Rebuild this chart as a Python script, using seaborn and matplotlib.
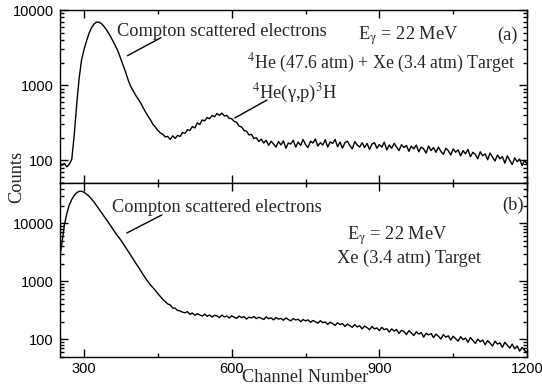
import numpy as np
import pandas as pd
import matplotlib
matplotlib.use("Agg")
import matplotlib.pyplot as plt
import seaborn as sns
from matplotlib.ticker import FixedLocator, AutoMinorLocator, LogLocator, FuncFormatter, NullFormatter

# ---------------- data ----------------
channel_start = 250
channel_step = 5

counts_a = [
    95, 86, 91, 82, 89, 104, 220, 560, 1250, 2200,
    3000, 3900, 4900, 5800, 6500, 6900, 6900, 6600, 6100, 5500,
    4900, 4300, 3700, 3200, 2700, 2200, 1800, 1450, 1150, 960,
    840, 730, 650, 580, 500, 440, 385, 345, 300, 275,
    250, 232, 222, 205, 208, 190, 212, 196, 215, 208,
    235, 228, 256, 250, 282, 270, 315, 300, 345, 335,
    372, 358, 395, 380, 420, 398, 425, 390, 395, 362,
    358, 330, 320, 285, 278, 250, 245, 218, 222, 195,
    200, 178, 192, 170, 185, 158, 180, 165, 150, 178,
    160, 182, 145, 170, 165, 185, 150, 175, 158, 190,
    162, 148, 180, 170, 192, 155, 172, 160, 188, 150,
    176, 168, 190, 152, 175, 145, 172, 180, 158, 142,
    178, 160, 150, 172, 148, 168, 140, 165, 172, 145,
    162, 150, 175, 138, 160, 145, 168, 150, 135, 162,
    148, 158, 132, 155, 142, 160, 130, 150, 142, 125,
    155, 135, 148, 128, 150, 132, 120, 145, 135, 118,
    142, 128, 138, 115, 135, 122, 140, 112, 128, 120,
    105, 130, 115, 122, 102, 125, 110, 98, 118, 105,
    112, 92, 115, 100, 88, 108, 96, 104, 85, 100,
    90,
]

counts_b = [
    2500, 4600, 9500, 15000, 21000, 26000, 30500, 34000, 36000, 36000,
    34500, 32000, 29500, 26500, 23500, 20500, 18000, 15500, 13500, 11800,
    10200, 8800, 7600, 6600, 5800, 5100, 4400, 3800, 3250, 2800,
    2400, 2050, 1780, 1520, 1300, 1120, 980, 860, 770, 690,
    610, 545, 485, 445, 405, 390, 345, 342, 312, 308,
    292, 285, 298, 268, 282, 258, 275, 262, 250, 270,
    248, 262, 240, 258, 252, 236, 260, 242, 250, 232,
    252, 238, 228, 250, 235, 244, 222, 240, 232, 246,
    226, 238, 230, 218, 242, 225, 232, 215, 236, 222,
    228, 212, 232, 218, 206, 226, 214, 220, 200, 218,
    206, 215, 195, 210, 200, 188, 208, 192, 198, 180,
    196, 185, 172, 192, 178, 186, 165, 182, 170, 160,
    178, 162, 170, 150, 168, 158, 145, 165, 150, 156,
    140, 160, 145, 152, 132, 150, 138, 146, 125, 142,
    135, 120, 140, 128, 115, 134, 122, 130, 108, 126,
    118, 125, 106, 122, 112, 100, 120, 108, 114, 96,
    112, 102, 92, 110, 98, 104, 88, 106, 95, 84,
    100, 90, 96, 80, 94, 85, 76, 92, 82, 86,
    72, 88, 78, 70, 82, 68, 76, 62, 72, 64,
    58,
]

x_ticks = [300, 600, 900, 1200]
y_ticks = [100, 1000, 10000]

channels_a = np.arange(len(counts_a)) * channel_step + channel_start
channels_b = np.arange(len(counts_b)) * channel_step + channel_start
df_a = pd.DataFrame({"Channel": channels_a, "Counts": counts_a})
df_b = pd.DataFrame({"Channel": channels_b, "Counts": counts_b})

# ---------------- style ----------------
sns.set_style("ticks")
plt.rcParams["font.family"] = ["Liberation Serif", "DejaVu Serif"]
plt.rcParams["mathtext.fontset"] = "stix"
plt.rcParams["axes.linewidth"] = 1.0

SERIF = 13.2
TICKFONT = dict(family="Liberation Sans", size=10.5)

fig = plt.figure(figsize=(5.42, 3.91), dpi=100)
left, right = 59.5 / 542, 527 / 542
w = right - left
ax_a = fig.add_axes([left, 1 - 183 / 391, w, (183 - 10) / 391])
ax_b = fig.add_axes([left, 1 - 356.5 / 391, w, (356.5 - 183) / 391])

sns.lineplot(data=df_a, x="Channel", y="Counts", ax=ax_a, color="black", linewidth=1.0)
sns.lineplot(data=df_b, x="Channel", y="Counts", ax=ax_b, color="black", linewidth=1.0)

for ax, ylim in ((ax_a, (50, 10000)), (ax_b, (50, 50000))):
    ax.set_yscale("log")
    ax.set_xlim(250, 1200)
    ax.set_ylim(*ylim)
    ax.xaxis.set_major_locator(FixedLocator(x_ticks))
    ax.xaxis.set_minor_locator(AutoMinorLocator(2))
    ax.yaxis.set_major_locator(FixedLocator(y_ticks))
    ax.yaxis.set_minor_locator(LogLocator(base=10, subs=np.arange(2, 10)))
    ax.yaxis.set_minor_formatter(NullFormatter())
    ax.yaxis.set_major_formatter(FuncFormatter(lambda v, p: f"{int(round(v))}"))
    ax.tick_params(which="both", direction="in", top=True, right=True,
                   width=1.0, colors="black")
    ax.tick_params(which="major", length=6, pad=4)
    ax.tick_params(which="minor", length=3)
    ax.set_xlabel("")
    ax.set_ylabel("")
    for lab in ax.get_xticklabels() + ax.get_yticklabels():
        lab.set_fontfamily(TICKFONT["family"])
        lab.set_fontsize(TICKFONT["size"])
    for s in ax.spines.values():
        s.set_color("black")

ax_a.tick_params(labelbottom=False)

# ---------------- annotations ----------------
ta = dict(transform=ax_a.transAxes, fontsize=SERIF, va="baseline")
ax_a.text(0.123, 0.850, "Compton scattered electrons", ha="left", **ta)
ax_a.text(0.638, 0.827, r"E$_{\mathrm{\gamma}}$ = 22 MeV", ha="left", **ta)
ax_a.text(0.979, 0.827, "(a)", ha="right", **ta)
ax_a.text(0.401, 0.665, r"$^{4}$He (47.6 atm) + Xe (3.4 atm) Target", ha="left",
          transform=ax_a.transAxes, fontsize=12.8, va="baseline")
ax_a.text(0.412, 0.491, r"$^{4}$He(γ,p)$^{3}$H", ha="left", **ta)
ax_a.plot([0.1455, 0.217], [0.736, 0.840], transform=ax_a.transAxes, color="black", lw=1.0)
ax_a.plot([0.375, 0.444], [0.376, 0.480], transform=ax_a.transAxes, color="black", lw=1.0)

tb = dict(transform=ax_b.transAxes, fontsize=SERIF, va="baseline")
ax_b.text(0.112, 0.833, "Compton scattered electrons", ha="left", **tb)
ax_b.text(0.615, 0.671, r"E$_{\mathrm{\gamma}}$ = 22 MeV", ha="left", **tb)
ax_b.text(0.594, 0.539, "Xe (3.4 atm) Target", ha="left", **tb)
ax_b.text(0.994, 0.844, "(b)", ha="right", **tb)
ax_b.plot([0.144, 0.219], [0.712, 0.816], transform=ax_b.transAxes, color="black", lw=1.0)

fig.text(17 / 542, 1 - 177 / 391, "Counts", rotation=90, ha="center", va="center", fontsize=SERIF)
fig.text(305 / 542, 1 - 378 / 391, "Channel Number", ha="center", va="center", fontsize=SERIF)

fig.savefig("out.png", dpi=100)
